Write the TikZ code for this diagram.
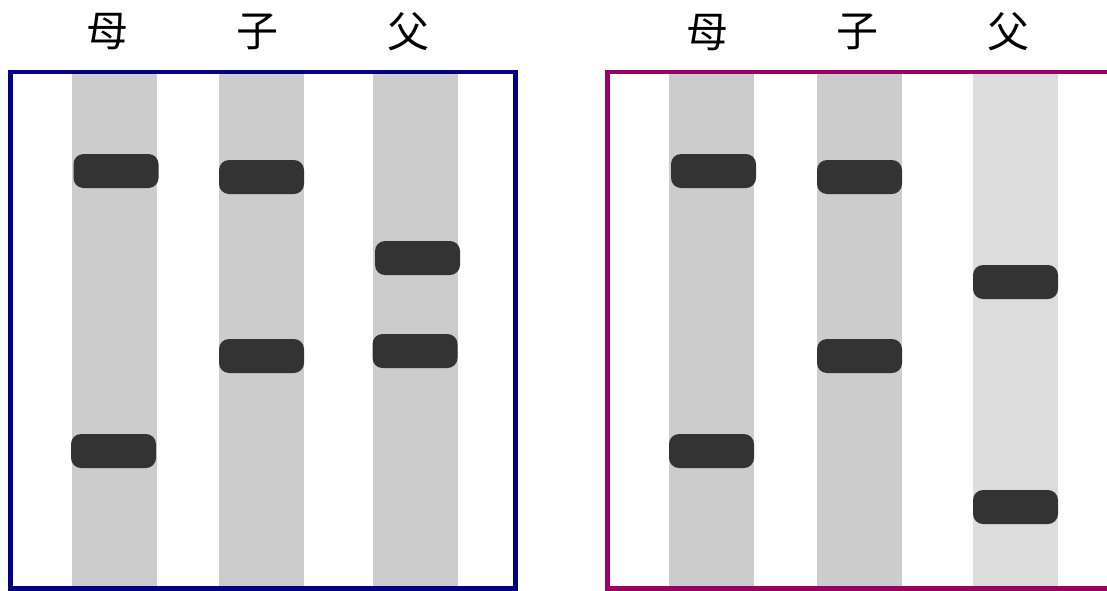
\documentclass[tikz,border=0pt]{standalone}
\usepackage{fontspec}
\newfontfamily\cjk{Noto Sans CJK SC}
\definecolor{lanegray}{HTML}{CCCCCC}
\definecolor{lanelight}{HTML}{DCDCDC}
\definecolor{banddark}{HTML}{333333}
\definecolor{boxblue}{HTML}{000080}
\definecolor{boxmag}{HTML}{990066}
\begin{document}
\begin{tikzpicture}[x=1pt,y=-1pt,
  lane/.style={fill=lanegray, draw=none},
  band/.style={rectangle, rounded corners=10pt, fill=banddark, draw=none, minimum width=85pt, minimum height=34pt, inner sep=0pt},
  lbl/.style={font=\cjk\fontsize{42}{44}\selectfont, inner sep=0pt, anchor=center},
  frame/.style={line width=4.5pt}
]
\useasboundingbox (0,0) rectangle (1107,590);
\clip (0,0) rectangle (1107,590);
% lanes left
\fill[lane] (72,72) rectangle (157,590);
\fill[lane] (219,72) rectangle (304,590);
\fill[lane] (373,72) rectangle (458,590);
% lanes right
\fill[lane] (669,72) rectangle (754,590);
\fill[lane] (817,72) rectangle (902,590);
\fill[lanelight] (973,72) rectangle (1058,590);
% frames
\draw[frame, draw=boxblue] (10.5,72) rectangle (515.5,588.5);
\draw[frame, draw=boxmag] (607.5,72) rectangle (1120,588.5);
% labels
\node[lbl] (lm) at (107,32) {母};
\node[lbl] (lz) at (257,32) {子};
\node[lbl] (lf) at (408,32) {父};
\node[lbl] (rm) at (707,33) {母};
\node[lbl] (rz) at (857,32) {子};
\node[lbl] (rf) at (1008,32) {父};
% bands left
\node[band] (lm1) at (116,171) {};
\node[band] (lz1) at (261.5,177) {};
\node[band] (lf1) at (417.5,258) {};
\node[band] (lz2) at (261.5,356) {};
\node[band] (lf2) at (415,351) {};
\node[band] (lm2) at (113.5,451) {};
% bands right
\node[band] (rm1) at (713.5,171) {};
\node[band] (rz1) at (859.5,177) {};
\node[band] (rf1) at (1015.5,282) {};
\node[band] (rz2) at (859.5,356) {};
\node[band] (rm2) at (711.5,451) {};
\node[band] (rf2) at (1015.5,507) {};
\end{tikzpicture}
\end{document}
